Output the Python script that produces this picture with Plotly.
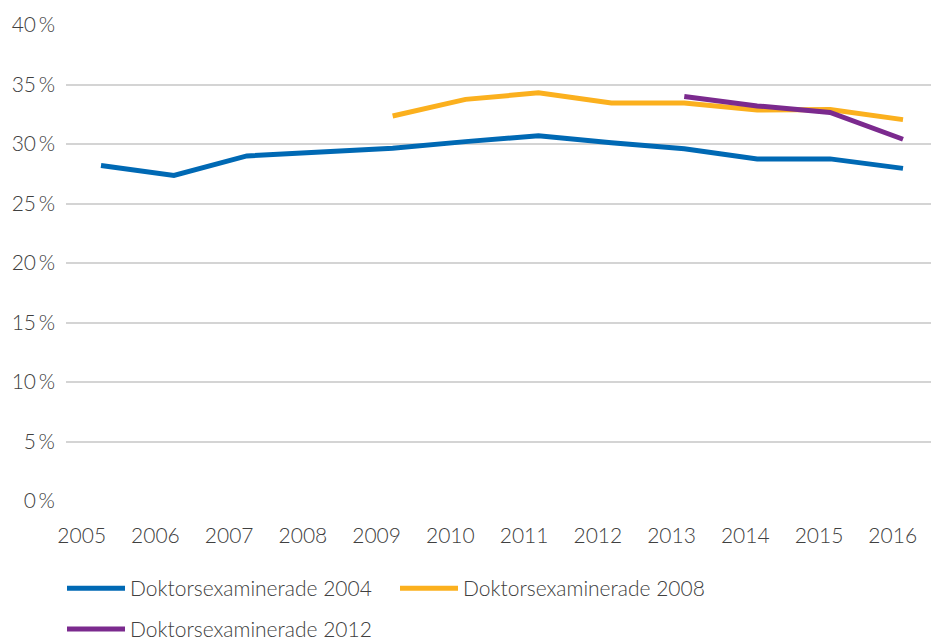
import plotly.graph_objects as go

years = [2005, 2006, 2007, 2008, 2009, 2010, 2011, 2012, 2013, 2014, 2015, 2016]
doktor_2004 = [28.2, 27.35, 29.0, 29.35, 29.65, 30.2, 30.7, 30.1, 29.6, 28.75, 28.75, 27.95]
years_2008 = [2009, 2010, 2011, 2012, 2013, 2014, 2015, 2016]
doktor_2008 = [32.35, 33.75, 34.3, 33.45, 33.45, 32.85, 32.9, 32.05]
years_2012 = [2013, 2014, 2015, 2016]
doktor_2012 = [34.0, 33.2, 32.65, 30.4]
y_ticks = [0, 5, 10, 15, 20, 25, 30, 35, 40]
y_labels = [f"{v}\u2009%" for v in y_ticks]
series_names = ["Doktorsexaminerade 2004", "Doktorsexaminerade 2008", "Doktorsexaminerade 2012"]
colors = ["#0069b4", "#fbb01e", "#7b2a8e"]

FONT = "Lato"
TXT = "#404040"
tf = dict(family=FONT, size=21, color=TXT, weight=300)

fig = go.Figure()
for xs, ys, name, col, lg in [(years, doktor_2004, series_names[0], colors[0], "legend"),
                              (years_2008, doktor_2008, series_names[1], colors[1], "legend"),
                              (years_2012, doktor_2012, series_names[2], colors[2], "legend2")]:
    fig.add_trace(go.Scatter(x=xs, y=ys, name=name, mode="lines", legend=lg,
                             line=dict(color=col, width=5, shape="linear"),
                             hoverinfo="skip"))
# label-only axis carrier
fig.add_trace(go.Scatter(x=years, y=[None] * len(years), xaxis="x2", showlegend=False,
                         hoverinfo="skip", mode="lines"))

fig.update_layout(
    width=931, height=643,
    margin=dict(l=66, r=0, t=25, b=142),
    paper_bgcolor="white", plot_bgcolor="white",
    font=tf,
    xaxis=dict(range=[2004.52, 2016.384], showticklabels=False, showgrid=False,
               zeroline=False, showline=False, ticks=""),
    xaxis2=dict(range=[2004.787, 2016.519], overlaying="x", side="bottom",
                tickvals=years, ticktext=[str(y) for y in years],
                showgrid=False, zeroline=False, showline=False, ticks="",
                ticklabelstandoff=20, tickfont=tf),
    yaxis=dict(range=[0, 40], tickvals=y_ticks, ticktext=y_labels,
               showgrid=True, gridcolor="#d4d4d4", gridwidth=1.5,
               zeroline=False, showline=False, ticks="", ticklabelstandoff=10,
               tickfont=tf),
    legend=dict(orientation="h", xref="container", yref="container",
                x=0.0666, y=0.1166, xanchor="left", yanchor="top",
                entrywidth=260, entrywidthmode="pixels",
                font=tf, itemwidth=58),
    legend2=dict(orientation="h", xref="container", yref="container",
                 x=0.0666, y=0.053, xanchor="left", yanchor="top",
                 font=tf, itemwidth=58),
    showlegend=True,
)

fig.write_html("out.html")
